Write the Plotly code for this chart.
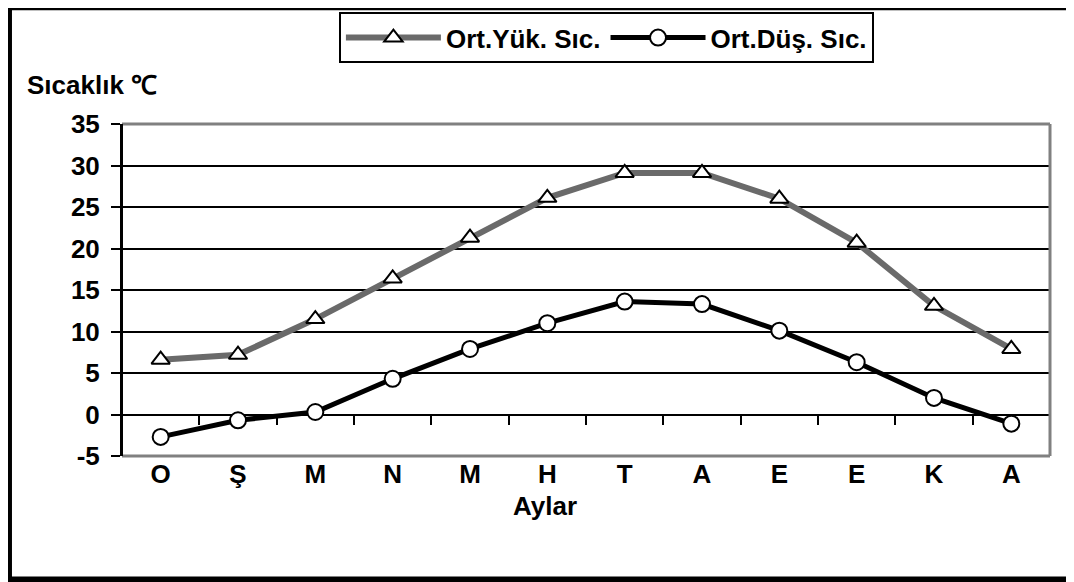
import plotly.graph_objects as go

# monthly temperature data
months = ["O", "Ş", "M", "N", "M", "H", "T", "A", "E", "E", "K", "A"]
highTemps = [6.6, 7.2, 11.5, 16.4, 21.3, 26.1, 29.1, 29.1, 26.0, 20.7, 13.1, 7.9]
lowTemps = [-2.7, -0.7, 0.3, 4.3, 7.9, 11.0, 13.6, 13.3, 10.1, 6.3, 2.0, -1.1]
yTicks = [-5, 0, 5, 10, 15, 20, 25, 30, 35]
yTickText = ["-5", "0", "5", "10", "15", "20", "25", "30", "35"]
highName = "Ort.Yük. Sıc."
lowName = "Ort.Düş. Sıc."
yTitle = "Sıcaklık ℃"
xTitle = "Aylar"

FONT = "Liberation Sans, Arial, sans-serif"
FS = 26
GRAY = "#808080"
idx = list(range(len(months)))

fig = go.Figure()
fig.add_trace(go.Scatter(x=idx, y=highTemps, name=highName, mode="lines+markers",
                         line=dict(color="#6a6a6a", width=6),
                         marker=dict(symbol="triangle-up", size=16, color="white",
                                     line=dict(color="black", width=2))))
fig.add_trace(go.Scatter(x=idx, y=lowTemps, name=lowName, mode="lines+markers",
                         line=dict(color="black", width=5),
                         marker=dict(symbol="circle", size=16, color="white",
                                     line=dict(color="black", width=2))))
# invisible trace so the tick axis on the zero line gets drawn
fig.add_trace(go.Scatter(x=idx, y=lowTemps, xaxis="x2", mode="lines", line=dict(width=0),
                         opacity=0, showlegend=False, hoverinfo="skip"))

# page body has an 8px margin, so the figure is 8px smaller and margins shifted
fig.update_layout(
    width=1066, height=574,
    margin=dict(l=114, r=24, t=116, b=126, autoexpand=False),
    paper_bgcolor="white", plot_bgcolor="white",
    font=dict(family=FONT, size=FS, color="black", weight="bold"),
    showlegend=True,
    legend=dict(orientation="h", x=0.522, y=1.26, xanchor="center", yanchor="middle",
                bordercolor="black", borderwidth=2, bgcolor="white",
                font=dict(family=FONT, size=FS, color="black", weight="bold"),
                itemwidth=95, tracegroupgap=0),
    xaxis=dict(range=[-0.5, 11.5], tickmode="array", tickvals=idx, ticktext=months,
               showgrid=False, zeroline=False, showline=False, ticks="",
               ticklabelstandoff=0),
    xaxis2=dict(range=[-0.5, 11.5], overlaying="x", anchor="free", position=0.125,
                tickmode="array", tickvals=[i + 0.5 for i in idx], showticklabels=False,
                ticks="outside", ticklen=9, tickwidth=2, tickcolor="black",
                showgrid=False, zeroline=False, showline=False),
    yaxis=dict(range=[-5, 35], tickmode="array", tickvals=yTicks, ticktext=yTickText,
               showgrid=True, gridcolor="black", gridwidth=2,
               zeroline=True, zerolinecolor="black", zerolinewidth=2,
               showline=True, linecolor="black", linewidth=2,
               ticks="outside", ticklen=9, tickwidth=2, tickcolor="black",
               ticklabelstandoff=6),
    shapes=[
        # gray plot-area frame on top, right and bottom
        dict(type="line", xref="paper", yref="paper", x0=0, x1=1, y0=1, y1=1,
             line=dict(color=GRAY, width=3)),
        dict(type="line", xref="paper", yref="paper", x0=1, x1=1, y0=0, y1=1,
             line=dict(color=GRAY, width=3)),
        dict(type="line", xref="paper", yref="paper", x0=0, x1=1, y0=0, y1=0,
             line=dict(color=GRAY, width=3)),
        dict(type="line", xref="paper", yref="paper", x0=0, x1=0, y0=0, y1=1,
             line=dict(color="black", width=2)),
        # outer chart border
        dict(type="rect", xref="paper", yref="paper", x0=-0.1218, x1=1.04, y0=-0.372, y1=1.352,
             line=dict(color="black", width=6), fillcolor="rgba(0,0,0,0)"),
    ],
    annotations=[
        dict(text=yTitle, xref="paper", yref="paper", x=-0.104, y=1.117,
             xanchor="left", yanchor="middle", showarrow=False,
             font=dict(family=FONT, size=FS, color="black", weight="bold")),
        dict(text=xTitle, xref="paper", yref="paper", x=0.456, y=-0.15,
             xanchor="center", yanchor="middle", showarrow=False,
             font=dict(family=FONT, size=FS, color="black", weight="bold")),
    ],
)

fig.write_html("out.html")
